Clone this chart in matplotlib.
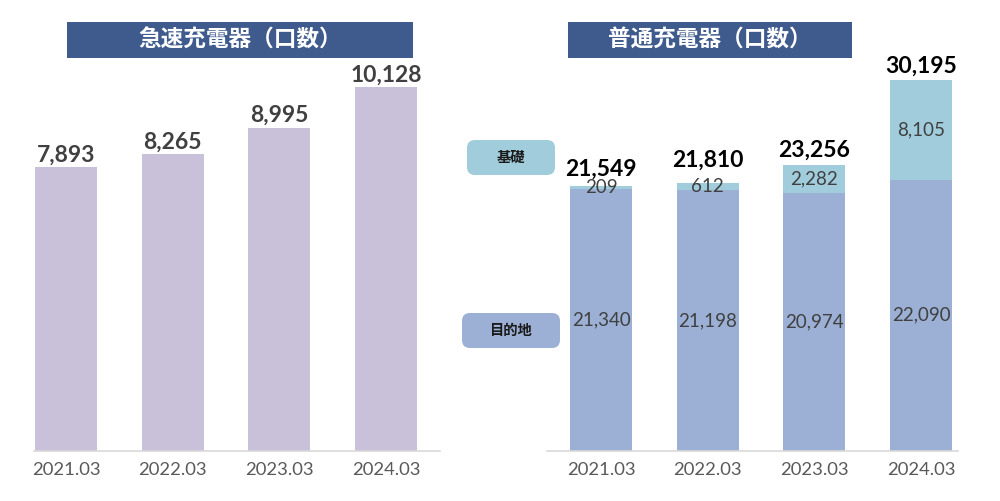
import matplotlib
matplotlib.use("Agg")
import matplotlib.pyplot as plt
from matplotlib.patches import FancyBboxPatch, Rectangle

plt.rcParams['font.family'] = ['Lato', 'Noto Sans CJK JP', 'DejaVu Sans']

categories = ['2021.03', '2022.03', '2023.03', '2024.03']
quick_values = [7893, 8265, 8995, 10128]
dest_values = [21340, 21198, 20974, 22090]
basic_values = [209, 612, 2282, 8105]
normal_totals = [21549, 21810, 23256, 30195]
title_left = '急速充電器（口数）'
title_right = '普通充電器（口数）'
legend_basic = '基礎'
legend_dest = '目的地'

# label offsets (points) above the stacked totals
total_offsets = [5, 9, 3, 2]

W, H = 1000, 501
fig = plt.figure(figsize=(10, 5.01), dpi=100)

def fx(px):
    return px / W

def fy(py):
    return 1 - py / H

c_purple = '#C9C0DA'
c_dest = '#9BB0D4'
c_basic = '#A0CCDB'
c_title = '#3F5B8E'
c_axis = '#D9D9D9'
c_text = '#404040'

xs = list(range(len(categories)))

# left axes
axL = fig.add_axes([fx(34), fy(451), fx(440 - 34), (451 - 60) / H])
axL.bar(xs, quick_values, width=0.58, color=c_purple)
axL.set_xlim(-0.30, 3.505)
axL.set_ylim(0, 10873)
for x, v in zip(xs, quick_values):
    axL.annotate(f'{v:,}', (x, v), xytext=(0, 1), textcoords='offset points',
                 ha='center', va='bottom', fontsize=16.5, fontweight='bold', color=c_text)

# right axes
axR = fig.add_axes([fx(547), fy(451), fx(958 - 547), (451 - 60) / H])
axR.bar(xs, dest_values, width=0.58, color=c_dest)
axR.bar(xs, basic_values, bottom=dest_values, width=0.58, color=c_basic)
axR.set_xlim(-0.506, 3.346)
axR.set_ylim(0, 31814)
for x, d, b, t, off in zip(xs, dest_values, basic_values, normal_totals, total_offsets):
    axR.text(x, d / 2, f'{d:,}', ha='center', va='center', fontsize=13.5, color=c_text)
    axR.text(x, d + b / 2, f'{b:,}', ha='center', va='center', fontsize=13.5, color=c_text)
    axR.annotate(f'{t:,}', (x, t), xytext=(0, off), textcoords='offset points',
                 ha='center', va='bottom', fontsize=16.5, fontweight='bold', color='black')

for ax in (axL, axR):
    for s in ['top', 'right', 'left']:
        ax.spines[s].set_visible(False)
    ax.spines['bottom'].set_color(c_axis)
    ax.spines['bottom'].set_linewidth(1.2)
    ax.set_yticks([])
    ax.set_xticks(xs)
    ax.set_xticklabels(categories, fontsize=13.3, color='#595959')
    ax.tick_params(axis='x', length=0, pad=8)
    ax.patch.set_alpha(0)

# title boxes
def title_box(x0, x1, text):
    r = Rectangle((fx(x0), fy(58)), fx(x1 - x0), (58 - 22) / H, transform=fig.transFigure,
                  facecolor=c_title, edgecolor='none')
    fig.patches.append(r)
    fig.text(fx((x0 + x1) / 2), fy(40), text, ha='center', va='center', color='white',
             fontsize=16.3, fontweight='bold', family=['Noto Sans CJK JP', 'DejaVu Sans'])

title_box(67, 413, title_left)
title_box(568, 852, title_right)

# legend boxes
def legend_box(x0, x1, y0, y1, color, text):
    p = FancyBboxPatch((fx(x0), fy(y1)), fx(x1 - x0), (y1 - y0) / H,
                       boxstyle='round,pad=0,rounding_size=0.008', transform=fig.transFigure,
                       facecolor=color, edgecolor='none', mutation_aspect=2)
    fig.patches.append(p)
    fig.text(fx((x0 + x1) / 2), fy((y0 + y1) / 2), text, ha='center', va='center',
             fontsize=10.3, fontweight='bold', color='#1a1a1a',
             family=['Noto Sans CJK JP', 'DejaVu Sans'])

legend_box(467, 555, 140, 175, c_basic, legend_basic)
legend_box(462, 560, 313, 348, c_dest, legend_dest)

fig.savefig('out.png', dpi=100)
